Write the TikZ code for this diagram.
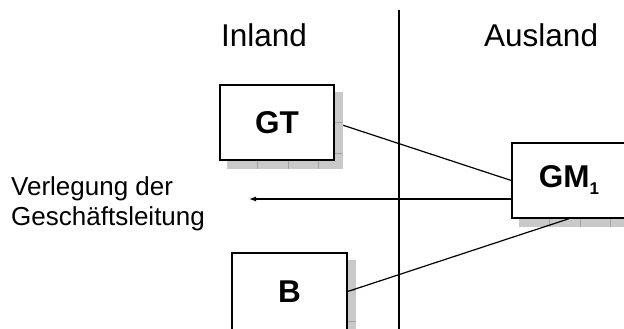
\documentclass[tikz,border=0pt]{standalone}
\usepackage{fontspec}
\setmainfont{Liberation Sans}
\usetikzlibrary{calc,arrows.meta}
\definecolor{shadowfill}{HTML}{C9C9C9}
\definecolor{shadowline}{HTML}{A2A2A2}
\pgfdeclarelayer{bg}
\pgfsetlayers{bg,main}
\tikzset{
  box/.style={draw=black, line width=1.4pt, fill=white, inner sep=0pt,
    minimum width=114pt, minimum height=75pt,
    font=\fontsize{31.5}{31.5}\selectfont\bfseries},
  link/.style={draw=black, line width=1.2pt},
  divider/.style={draw=black, line width=1.4pt},
  heading/.style={font=\fontsize{31.5}{31.5}\selectfont, anchor=base west, inner sep=0pt},
  note/.style={font=\fontsize{26}{30}\selectfont, align=left, anchor=base west, inner sep=0pt},
}
% gray tiled drop shadow behind a box node
\newcommand\tileshadow[1]{%
  \begin{pgfonlayer}{bg}
    \begin{scope}
      \path (#1.north west) coordinate (sa) (#1.south east) coordinate (sb);
      \fill[shadowfill] ($(sa)+(8,8)$) rectangle ($(sb)+(8,8)$);
      \clip ($(sa)+(8,8)$) rectangle ($(sb)+(8,8)$);
      \foreach \k in {1,...,4} {
        \draw[shadowline, line width=0.9pt] ($(sa)+(8+30.5*\k,0)$) -- ++(0,200);
        \draw[shadowline, line width=0.9pt] ($(sa)+(0,8+30.5*\k)$) -- ++(200,0);
      }
    \end{scope}
  \end{pgfonlayer}}
\begin{document}
\begin{tikzpicture}[x=1pt, y=-1pt]
  \useasboundingbox (0,0) rectangle (624,329);

  % column headings and border
  \node[heading] (inland) at (221,47) {Inland};
  \node[heading] (ausland) at (484,47) {Ausland};
  \coordinate (divtop) at (399,10);
  \coordinate (divbot) at (399,331);
  \draw[divider] (divtop) -- (divbot);

  % companies
  \node[box] (gt) at (277,122.5) {GT};
  \node[box] (gm) at (569,180.5) {GM\raisebox{-7pt}{\fontsize{17}{17}\selectfont 1}};
  \node[box, minimum width=115pt, minimum height=77pt] (b) at (289.5,291.5) {B};

  % link behind the GT shadow
  \begin{pgfonlayer}{bg}
    \draw[link] (gt.east) -- (gm.west);
  \end{pgfonlayer}
  \tileshadow{gt}
  \tileshadow{gm}
  \tileshadow{b}

  \draw[link] (b.east) -- (gm.south);

  % relocation of the management
  \coordinate (arrowend) at (249,199);
  \draw[link, -{Latex[length=7pt,width=5pt]}] (gm.west |- arrowend) -- (arrowend);
  \node[note] (move) at (11,225) {Verlegung der\\Geschäftsleitung};
\end{tikzpicture}
\end{document}
